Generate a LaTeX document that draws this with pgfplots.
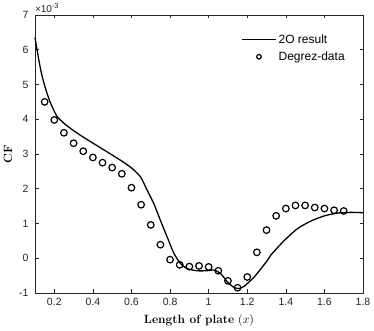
\documentclass[border=0pt]{standalone}
\usepackage{fontspec}
\usepackage{pgfplots}
\pgfplotsset{compat=1.18}
\newfontfamily\hel{Liberation Sans}
\definecolor{axgray}{RGB}{38,38,38}
\pgfplotsset{
  long line legend/.style={legend image code/.code={\draw[##1] (0pt,0pt) -- (34pt,0pt);}},
  circ legend/.style={legend image code/.code={\draw[##1, mark size=2.3pt] plot coordinates {(17pt,0pt)};}},
}

\begin{document}
\begin{tikzpicture}
\begin{axis}[
  name=ax,
  scale only axis,
  clip=false,
  width=328pt, height=278pt,
  xmin=0.1, xmax=1.8, ymin=-1, ymax=7,
  xtick={0.2,0.4,...,1.8},
  ytick={-1,0,...,7},
  tick align=inside,
  major tick length=3.5pt,
  axis line style={axgray, line width=0.5pt},
  every tick/.style={axgray, line width=0.5pt},
  tick label style={font=\hel\fontsize{10.5}{11}\selectfont, text=axgray},
  xticklabel style={yshift=-2pt},
  yticklabel style={xshift=-3pt},
  /pgf/number format/assume math mode=true,
  legend style={at={(rel axis cs:0.96,0.945)}, anchor=north east, draw=none, fill=none,
    font=\hel\fontsize{12}{13}\selectfont, row sep=3pt,
    /tikz/every even column/.append style={column sep=1pt}},
  legend cell align=left,
]
%% 2O result
\addplot[black, line width=1.3pt, smooth, tension=0.4, long line legend] coordinates {
 (0.100,6.35) (0.117,5.79) (0.134,5.31) (0.152,4.93) (0.178,4.50)
 (0.212,4.10) (0.247,3.90) (0.283,3.74) (0.335,3.54) (0.404,3.30)
 (0.474,3.06) (0.543,2.82) (0.600,2.60) (0.647,2.34)
 (0.681,1.96) (0.716,1.57) (0.750,1.09) (0.785,0.61) (0.820,0.14)
 (0.854,-0.15) (0.889,-0.30) (0.940,-0.36) (0.990,-0.36) (1.028,-0.34)
 (1.062,-0.44) (1.097,-0.68) (1.131,-0.84) (1.157,-0.87) (1.183,-0.81)
 (1.236,-0.54) (1.305,-0.06) (1.322,0.09) (1.390,0.50) (1.460,0.85)
 (1.530,1.07) (1.600,1.22) (1.669,1.30) (1.738,1.32) (1.800,1.31)
};
%% Degrez-data
\addplot[only marks, mark=o, mark size=3.3pt, mark options={line width=1.2pt, black}, circ legend] coordinates {
 (0.15,4.50) (0.20,3.98) (0.25,3.61) (0.30,3.31) (0.35,3.08) (0.40,2.90)
 (0.45,2.75) (0.50,2.61) (0.55,2.43) (0.60,2.03) (0.65,1.54) (0.70,0.96)
 (0.75,0.39) (0.80,-0.04) (0.85,-0.19) (0.90,-0.24) (0.95,-0.22) (1.00,-0.25)
 (1.05,-0.36) (1.10,-0.65) (1.15,-0.85) (1.20,-0.54) (1.25,0.17) (1.30,0.81)
 (1.35,1.22) (1.40,1.43) (1.45,1.52) (1.50,1.52) (1.55,1.46) (1.60,1.43)
 (1.65,1.38) (1.70,1.36)
};
\legend{2O result, Degrez-data}
\node[anchor=south west, inner sep=0pt, outer sep=0pt, yshift=2pt, text=axgray,
  font=\hel\fontsize{10}{11}\selectfont]
  at (rel axis cs:0,1) {×10\raisebox{0.9ex}{\fontsize{7.5}{8}\selectfont -3}};
\end{axis}
\node[font=\fontsize{12}{13}\selectfont] at ([yshift=-28pt]ax.south)
  {\textbf{Length of plate} $(x)$};
\node[rotate=90, font=\fontsize{12}{13}\selectfont] at ([xshift=-27pt]ax.west)
  {\textbf{CF}};
\pgfresetboundingbox
\path ([shift={(-35pt,-38pt)}]ax.south west) rectangle ([shift={(11pt,15pt)}]ax.north east);
\end{tikzpicture}
\end{document}
